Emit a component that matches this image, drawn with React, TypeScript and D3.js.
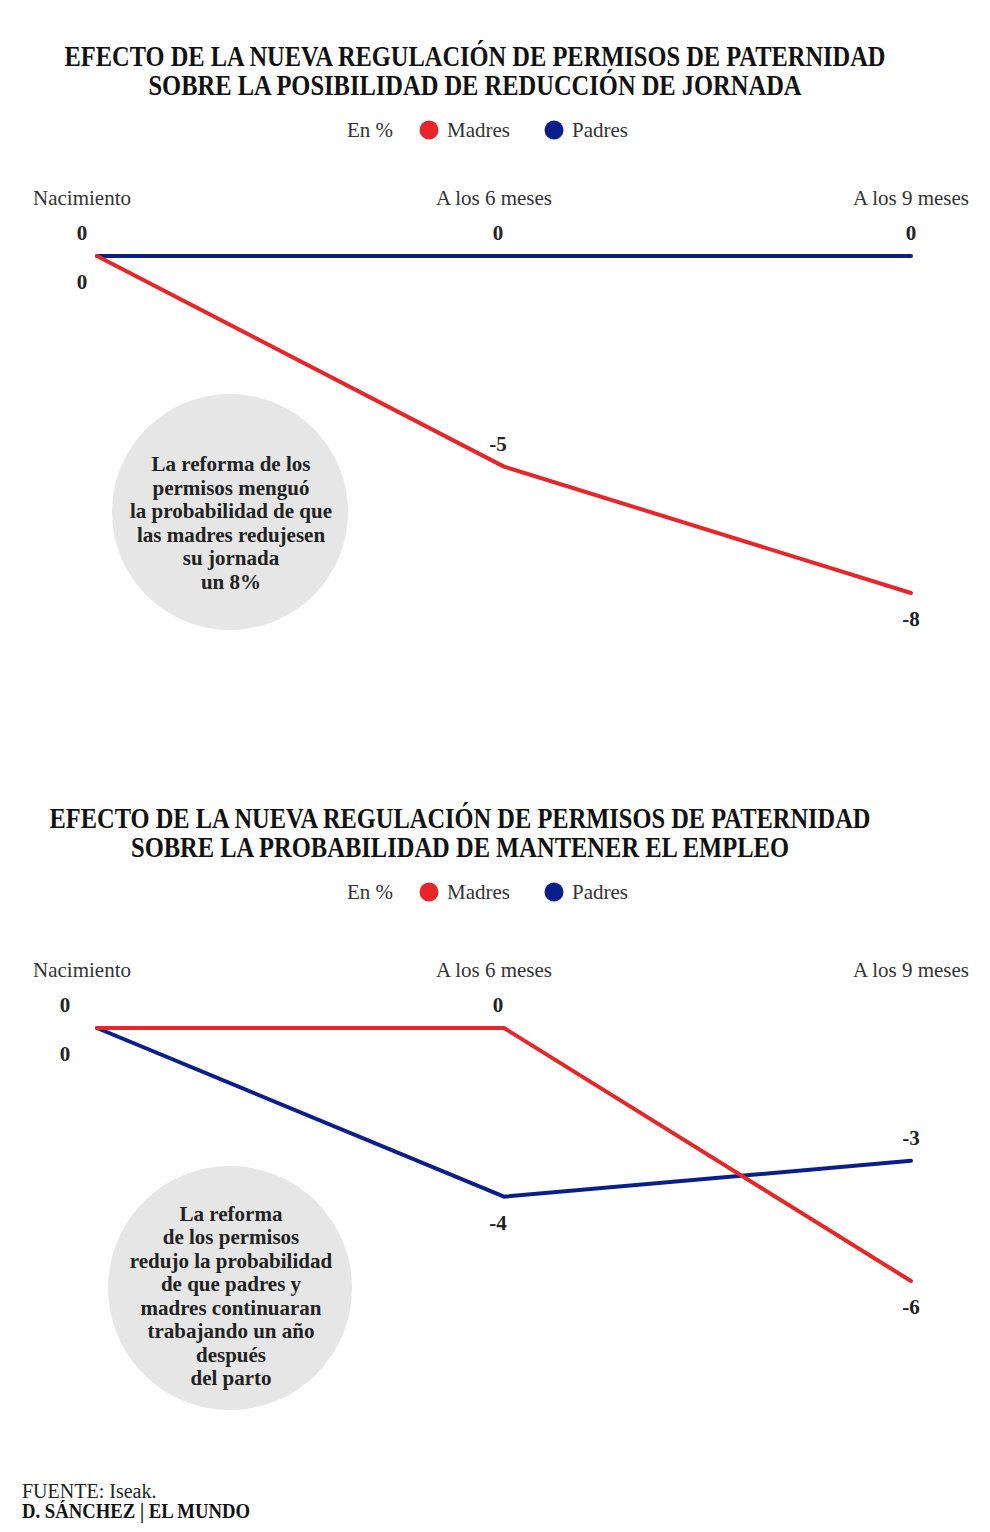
import React from "react";
import * as d3 from "d3";

const categories = ["Nacimiento", "A los 6 meses", "A los 9 meses"];

const chart1Title = [
  "EFECTO DE LA NUEVA REGULACIÓN DE PERMISOS DE PATERNIDAD",
  "SOBRE LA POSIBILIDAD DE REDUCCIÓN DE JORNADA",
];
const chart1Madres = [0, -5, -8];
const chart1Padres = [0, 0, 0];
const chart1Note = [
  "La reforma de los",
  "permisos menguó",
  "la probabilidad de que",
  "las madres redujesen",
  "su jornada",
  "un 8%",
];

const chart2Title = [
  "EFECTO DE LA NUEVA REGULACIÓN DE PERMISOS DE PATERNIDAD",
  "SOBRE LA PROBABILIDAD DE MANTENER EL EMPLEO",
];
const chart2Madres = [0, 0, -6];
const chart2Padres = [0, -4, -3.15];
const chart2Note = [
  "La reforma",
  "de los permisos",
  "redujo la probabilidad",
  "de que padres y",
  "madres continuaran",
  "trabajando un año",
  "después",
  "del parto",
];

const legendItems = ["Madres", "Padres"];
const sourceText = "FUENTE: Iseak.";
const creditText = "D. SÁNCHEZ | EL MUNDO";

const RED = "#e8262a";
const BLUE = "#0b1f8c";
const FONT = "'Liberation Serif', 'Times New Roman', serif";
const TEXT = "#222";

type Side = "above" | "below";

interface ChartProps {
  top: number;
  lineY: number;
  title: string[];
  titleCenter: number;
  titleWidths: number[];
  madres: number[];
  padres: number[];
  yMin: number;
  yBottom: number;
  madresSide: Side[];
  padresSide: Side[];
  firstLabelDx: number;
  note: string[];
  noteCx: number;
  noteCy: number;
  noteR: number;
  noteTextCy: number;
}

function Chart(p: ChartProps) {
  const lineY = p.lineY;
  const x = d3.scalePoint<string>().domain(categories).range([97, 911]);
  const y = d3.scaleLinear().domain([0, p.yMin]).range([lineY, p.yBottom]);
  const line = d3
    .line<number>()
    .x((_, i) => x(categories[i]) as number)
    .y((d) => y(d));

  const labelDx = [p.firstLabelDx, -6, 0];
  const fmt = (v: number) => String(Math.round(v));

  const renderLabels = (vals: number[], sides: Side[], key: string) =>
    vals.map((v, i) => (
      <text
        key={key + i}
        x={(x(categories[i]) as number) + labelDx[i]}
        y={y(v) + (sides[i] === "above" ? -23 : 26)}
        textAnchor="middle"
        dominantBaseline="central"
        fontFamily={FONT}
        fontWeight="bold"
        fontSize={21}
        fill={TEXT}
      >
        {fmt(v)}
      </text>
    ));

  const legendY = p.top + 74;
  const noteLineH = 23.5;
  const noteStart = p.noteTextCy - ((p.note.length - 1) * noteLineH) / 2;

  return (
    <g>
      {p.title.map((t, i) => (
        <text
          key={"t" + i}
          transform={`translate(${p.titleCenter},${p.top + i * 29}) scale(1,1.2)`}
          textAnchor="middle"
          dominantBaseline="central"
          fontFamily={FONT}
          fontWeight="bold"
          fontSize={24}
          fill="#111"
          textLength={p.titleWidths[i]}
          lengthAdjust="spacingAndGlyphs"
        >
          {t}
        </text>
      ))}
      <g fontFamily={FONT} fontSize={21} fill="#333">
        <text x={347} y={legendY} dominantBaseline="central">
          En %
        </text>
        <circle cx={429} cy={legendY} r={9.5} fill={RED} />
        <text x={447} y={legendY} dominantBaseline="central">
          {legendItems[0]}
        </text>
        <circle cx={554} cy={legendY} r={9.5} fill={BLUE} />
        <text x={572} y={legendY} dominantBaseline="central">
          {legendItems[1]}
        </text>
      </g>
      {categories.map((c, i) => (
        <text
          key={c}
          x={i === 0 ? 82 : i === 1 ? 494 : 911}
          y={lineY - 58}
          textAnchor="middle"
          dominantBaseline="central"
          fontFamily={FONT}
          fontSize={21}
          fill="#333"
        >
          {c}
        </text>
      ))}
      <circle cx={p.noteCx} cy={p.noteCy} r={p.noteR} fill="#e6e6e6" />
      {p.note.map((t, i) => (
        <text
          key={"n" + i}
          x={p.noteCx + 1}
          y={noteStart + i * noteLineH}
          textAnchor="middle"
          dominantBaseline="central"
          fontFamily={FONT}
          fontWeight="bold"
          fontSize={21}
          fill={TEXT}
        >
          {t}
        </text>
      ))}
      <path
        d={line(p.padres) || ""}
        fill="none"
        stroke={BLUE}
        strokeWidth={4}
        strokeLinecap="round"
        strokeLinejoin="round"
      />
      <path
        d={line(p.madres) || ""}
        fill="none"
        stroke={RED}
        strokeWidth={4}
        strokeLinecap="round"
        strokeLinejoin="round"
      />
      {renderLabels(p.padres, p.padresSide, "p")}
      {renderLabels(p.madres, p.madresSide, "m")}
    </g>
  );
}

export default function App() {
  return (
    <svg
      width={990}
      height={1532}
      viewBox="0 0 990 1532"
      style={{ position: "absolute", left: 0, top: 0, background: "#fff" }}
    >
      <rect width={990} height={1532} fill="#fff" />
      <Chart
        top={56}
        lineY={256}
        title={chart1Title}
        titleCenter={475}
        titleWidths={[821, 653]}
        madres={chart1Madres}
        padres={chart1Padres}
        yMin={-8}
        yBottom={593}
        madresSide={["below", "above", "below"]}
        padresSide={["above", "above", "above"]}
        firstLabelDx={-15}
        note={chart1Note}
        noteCx={230}
        noteCy={512}
        noteR={118}
        noteTextCy={523}
      />
      <Chart
        top={818}
        lineY={1028}
        title={chart2Title}
        titleCenter={460}
        titleWidths={[821, 658]}
        madres={chart2Madres}
        padres={chart2Padres}
        yMin={-6}
        yBottom={1281}
        madresSide={["above", "above", "below"]}
        padresSide={["below", "below", "above"]}
        firstLabelDx={-32}
        note={chart2Note}
        noteCx={230}
        noteCy={1288}
        noteR={122}
        noteTextCy={1296}
      />
      <text x={22} y={1491} dominantBaseline="central" fontFamily={FONT} fontSize={20} fill="#222">
        {sourceText}
      </text>
      <text
        x={22}
        y={1511}
        dominantBaseline="central"
        fontFamily={FONT}
        fontWeight="bold"
        fontSize={20}
        fill="#111"
        textLength={228}
        lengthAdjust="spacingAndGlyphs"
      >
        {creditText}
      </text>
    </svg>
  );
}
